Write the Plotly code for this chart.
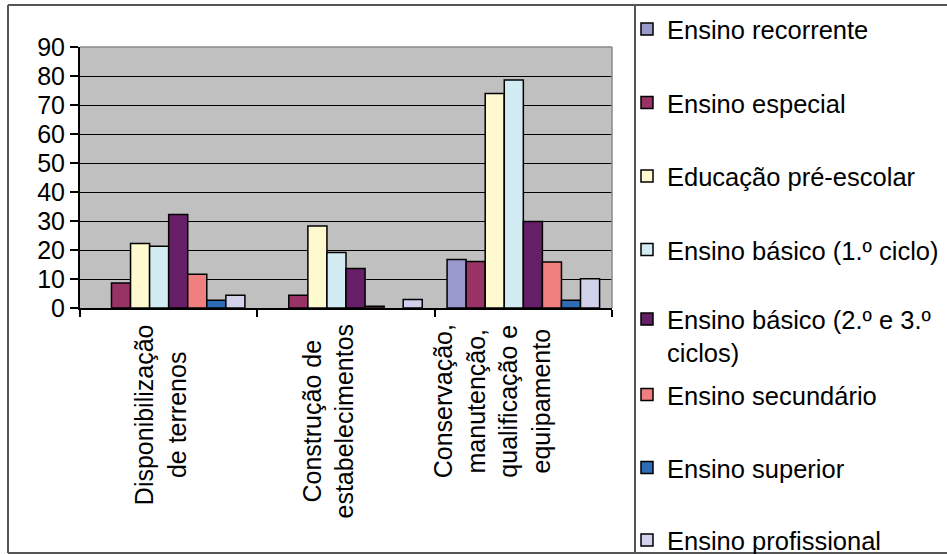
import plotly.graph_objects as go

# Investment areas (x categories)
categories = [
    "Disponibilização de terrenos",
    "Construção de estabelecimentos",
    "Conservação, manutenção, qualificação e equipamento",
]
category_labels = [
    "Disponibilização<br>de terrenos",
    "Construção de<br>estabelecimentos",
    "Conservação,<br>manutenção,<br>qualificação e<br>equipamento",
]

# Values per level of education
ensino_recorrente = [None, None, 16.7]
ensino_especial = [8.6, 4.4, 16.0]
educacao_pre_escolar = [22.2, 28.3, 74.0]
ensino_basico_1 = [21.3, 19.1, 78.6]
ensino_basico_23 = [32.2, 13.6, 29.8]
ensino_secundario = [11.6, 0.6, 15.9]
ensino_superior = [2.7, None, 2.7]
ensino_profissional = [4.4, 2.9, 10.1]

series_names = [
    "Ensino recorrente",
    "Ensino especial",
    "Educação pré-escolar",
    "Ensino básico (1.º ciclo)",
    "Ensino básico (2.º e 3.º<br>ciclos)",
    "Ensino secundário",
    "Ensino superior",
    "Ensino profissional",
]
series_values = [
    ensino_recorrente, ensino_especial, educacao_pre_escolar, ensino_basico_1,
    ensino_basico_23, ensino_secundario, ensino_superior, ensino_profissional,
]
series_colors = [
    "#9999CC", "#993366", "#FFF9CF", "#D3ECF3",
    "#661F66", "#F08080", "#2E6CB5", "#D2D2EC",
]

y_ticks = list(range(0, 100, 10))

FONT = "Liberation Sans, Arial, sans-serif"
W, H = 947, 554
ML, MR, MT, MB = 80, 335, 47, 246
PW, PH = W - ML - MR, H - MT - MB


def px_x(px):
    return (px - ML) / PW


def px_y(py):
    return (H - MB - py) / PH


# vertical centre of each legend entry (pixels from top)
legend_rows = [29.5, 103, 176.5, 250, 336, 395, 468, 540.5]

fig = go.Figure()
layout_legends = {}
for i, (name, vals, col) in enumerate(zip(series_names, series_values, series_colors)):
    key = "legend" if i == 0 else f"legend{i + 1}"
    fig.add_trace(go.Bar(
        x=categories, y=vals, name=name,
        marker=dict(color=col, line=dict(color="black", width=1.5)),
        legend=key, showlegend=True,
    ))
    layout_legends[key] = dict(
        x=px_x(627), y=px_y(legend_rows[i]),
        xanchor="left", yanchor="middle", valign="top",
        bgcolor="rgba(0,0,0,0)", borderwidth=0,
        font=dict(family=FONT, size=25.5, color="black"),
        visible=True,
    )

# category labels, rotated and centred line by line
label_shift = [-8, -18, -31]
annotations = []
for cat, lab, sh in zip(categories, category_labels, label_shift):
    annotations.append(dict(
        x=cat, xref="x", y=px_y(322), yref="paper",
        text=lab, textangle=-90, align="center",
        xanchor="center", yanchor="top", xshift=sh,
        showarrow=False, font=dict(family=FONT, size=25, color="black"),
    ))

frame = "#555555"
shapes = [
    # outer frame
    dict(type="line", xref="paper", yref="paper", x0=px_x(8), x1=px_x(960), y0=px_y(5), y1=px_y(5),
         line=dict(color=frame, width=2)),
    dict(type="line", xref="paper", yref="paper", x0=px_x(8), x1=px_x(960), y0=px_y(553), y1=px_y(553),
         line=dict(color=frame, width=2)),
    dict(type="line", xref="paper", yref="paper", x0=px_x(8), x1=px_x(8), y0=px_y(5), y1=px_y(553),
         line=dict(color=frame, width=2)),
    # legend divider
    dict(type="line", xref="paper", yref="paper", x0=px_x(635), x1=px_x(635), y0=px_y(5), y1=px_y(553),
         line=dict(color=frame, width=2)),
    # plot-area border (top and right)
    dict(type="line", xref="paper", yref="paper", x0=0, x1=1, y0=1, y1=1,
         line=dict(color="#8A8A8A", width=1.5), layer="above"),
    dict(type="line", xref="paper", yref="paper", x0=1, x1=1, y0=0, y1=1,
         line=dict(color="#8A8A8A", width=1.5), layer="above"),
]

fig.update_layout(
    width=W, height=H,
    margin=dict(l=ML, r=MR, t=MT, b=MB, autoexpand=False),
    paper_bgcolor="white", plot_bgcolor="#C0C0C0",
    barmode="group", bargap=0.14, bargroupgap=0,
    font=dict(family=FONT, size=25, color="black"),
    showlegend=True,
    annotations=annotations, shapes=shapes,
    **layout_legends,
)
fig.update_xaxes(
    showticklabels=False, ticks="outside", tickson="boundaries",
    ticklen=7, tickwidth=1.5, tickcolor="black",
    showline=True, linecolor="black", linewidth=2,
    showgrid=False,
)
fig.update_yaxes(
    range=[0, 90], tickvals=y_ticks, ticks="outside", ticklen=8,
    tickwidth=1.5, tickcolor="black",
    showline=True, linecolor="black", linewidth=2,
    showgrid=True, gridcolor="black", gridwidth=1, zeroline=False,
    tickfont=dict(family=FONT, size=25, color="black"),
)

fig.write_html("out.html")
